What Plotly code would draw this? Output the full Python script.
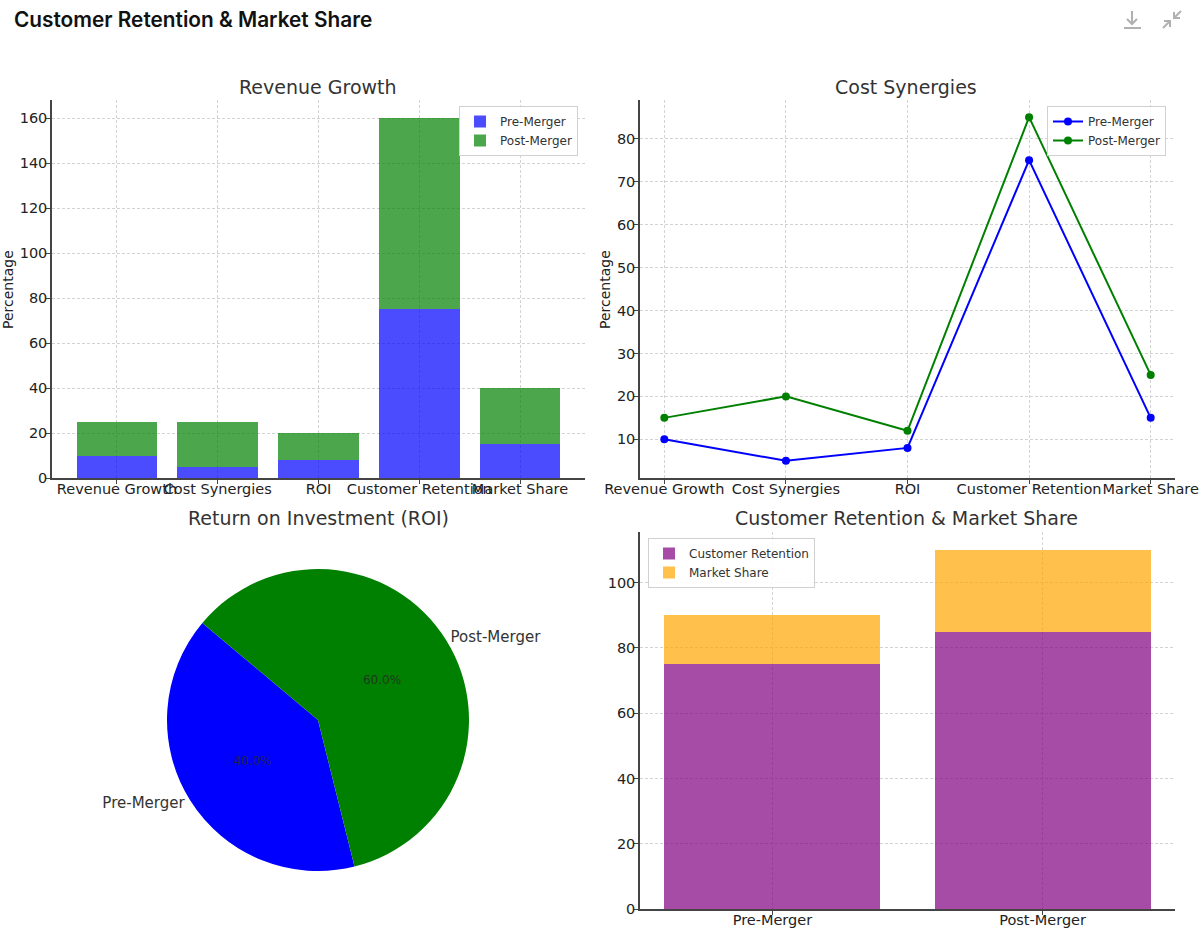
import plotly.graph_objects as go

# chart data
categories = ["Revenue Growth", "Cost Synergies", "ROI", "Customer Retention", "Market Share"]
pre_merger = [10, 5, 8, 75, 15]
post_merger = [15, 20, 12, 85, 25]

roi_labels = ["Pre-Merger", "Post-Merger"]
roi_values = [8, 12]

stages = ["Pre-Merger", "Post-Merger"]
retention = [75, 85]
market_share = [15, 25]

# page geometry (pixels), body margin is removed in the page so these map 1:1
W, H = 1200, 952
PLOT_L, PLOT_R, PLOT_T, PLOT_B = 52, 1175, 100, 909
pw, ph = PLOT_R - PLOT_L, PLOT_B - PLOT_T


def fx(px):
    return (px - PLOT_L) / pw


def fy(py):
    return (PLOT_B - py) / ph


FONT = "DejaVu Sans"

fig = go.Figure()

# Revenue Growth: stacked bars
fig.add_trace(go.Bar(x=categories, y=pre_merger, name="Pre-Merger",
                     marker=dict(color="rgba(0,0,255,0.7)", line=dict(width=0)),
                     xaxis="x", yaxis="y", legend="legend"))
fig.add_trace(go.Bar(x=categories, y=post_merger, name="Post-Merger",
                     marker=dict(color="rgba(0,128,0,0.7)", line=dict(width=0)),
                     xaxis="x", yaxis="y", legend="legend"))

# Cost Synergies: lines
fig.add_trace(go.Scatter(x=categories, y=pre_merger, name="Pre-Merger", mode="lines+markers",
                         line=dict(color="blue", width=2), marker=dict(color="blue", size=8),
                         xaxis="x2", yaxis="y2", legend="legend2"))
fig.add_trace(go.Scatter(x=categories, y=post_merger, name="Post-Merger", mode="lines+markers",
                         line=dict(color="green", width=2), marker=dict(color="green", size=8),
                         xaxis="x2", yaxis="y2", legend="legend2"))

# ROI pie (plotly's counterclockwise pie puts the first slice clockwise of `rotation`)
pie_domain = dict(x=[fx(167), fx(469)], y=[fy(871), fy(569)])
fig.add_trace(go.Pie(labels=roi_labels, values=roi_values, sort=False,
                     direction="counterclockwise", rotation=166,
                     marker=dict(colors=["blue", "green"], line=dict(width=0)),
                     texttemplate="%{percent:.1%}", textposition="inside",
                     insidetextorientation="horizontal",
                     textfont=dict(family=FONT, size=12, color="rgba(40,40,40,0.85)"),
                     domain=pie_domain, showlegend=False))
fig.add_trace(go.Pie(labels=roi_labels, values=roi_values, sort=False,
                     direction="counterclockwise", rotation=166,
                     marker=dict(colors=["rgba(0,0,0,0)", "rgba(0,0,0,0)"], line=dict(width=0)),
                     textinfo="label", textposition="outside",
                     outsidetextfont=dict(family=FONT, size=15, color="#333"),
                     domain=pie_domain, showlegend=False, hoverinfo="skip"))

# Customer Retention & Market Share: stacked bars
fig.add_trace(go.Bar(x=stages, y=retention, name="Customer Retention",
                     marker=dict(color="rgba(128,0,128,0.7)", line=dict(width=0)),
                     xaxis="x3", yaxis="y3", legend="legend3"))
fig.add_trace(go.Bar(x=stages, y=market_share, name="Market Share",
                     marker=dict(color="rgba(255,165,0,0.7)", line=dict(width=0)),
                     xaxis="x3", yaxis="y3", legend="legend3"))

axis_style = dict(showline=True, linecolor="#444", linewidth=1.5, ticks="outside", ticklen=4,
                  tickcolor="#444", showgrid=True, gridcolor="#d3d3d3", griddash="3px,2px",
                  gridwidth=1, zeroline=False, automargin=False,
                  tickfont=dict(family=FONT, size=14.5, color="#222"))
x_style = dict(axis_style, type="category", tickangle=0, ticklabelstandoff=-7)
y_style = dict(axis_style, ticklabelstandoff=-4)

legend_style = dict(bgcolor="rgba(255,255,255,0.85)", bordercolor="#d0d0d0", borderwidth=1,
                    font=dict(family=FONT, size=12, color="#333"), traceorder="normal",
                    tracegroupgap=0, itemwidth=30)

fig.update_layout(
    width=W, height=H,
    margin=dict(l=PLOT_L, r=W - PLOT_R, t=PLOT_T, b=H - PLOT_B),
    paper_bgcolor="white", plot_bgcolor="white",
    font=dict(family=FONT, color="#333"),
    barmode="stack", bargap=0.2,
    title=dict(text="Customer Retention & Market Share", x=14 / W, xref="container",
               xanchor="left", y=1 - 20 / H, yref="container", yanchor="middle",
               font=dict(family="Inter", size=20.8, color="#111", weight=600)),
    xaxis=dict(x_style, domain=[fx(52), fx(585)], anchor="y", range=[-0.645, 4.645]),
    yaxis=dict(y_style, domain=[fy(478), fy(100)], anchor="x", range=[0, 168], dtick=20),
    xaxis2=dict(x_style, domain=[fx(640), fx(1175)], anchor="y2", range=[-0.2, 4.2]),
    yaxis2=dict(y_style, domain=[fy(478), fy(100)], anchor="x2", range=[1, 89], dtick=10,
                tick0=0),
    xaxis3=dict(x_style, domain=[fx(640), fx(1175)], anchor="y3", range=[-0.49, 1.49]),
    yaxis3=dict(y_style, domain=[fy(909), fy(532)], anchor="x3", range=[0, 115.5], dtick=20),
    legend=dict(legend_style, x=fx(578), xanchor="right", y=fy(106), yanchor="top"),
    legend2=dict(legend_style, x=fx(1166), xanchor="right", y=fy(106), yanchor="top"),
    legend3=dict(legend_style, x=fx(648), xanchor="left", y=fy(538), yanchor="top"),
)

# subplot titles
titles = [("Revenue Growth", 318, 87), ("Cost Synergies", 906, 87),
          ("Return on Investment (ROI)", 318, 518), ("Customer Retention & Market Share", 906, 518)]
for text, px, py in titles:
    fig.add_annotation(text=text, x=fx(px), y=fy(py), xref="paper", yref="paper",
                       showarrow=False, xanchor="center", yanchor="middle",
                       font=dict(family=FONT, size=19, color="#333"))

# y axis labels
for px in (8, 605):
    fig.add_annotation(text="Percentage", x=fx(px), y=fy(290), xref="paper", yref="paper",
                       showarrow=False, textangle=-90, xanchor="center", yanchor="middle",
                       font=dict(family=FONT, size=14, color="#222"))


# toolbar icons (download / collapse)
def path(points):
    return "M " + " L ".join(f"{fx(a)},{fy(b)}" for a, b in points)


icon_line = dict(color="#b0b0b0", width=2)
for pts in [
    [(1132, 11), (1132, 24)], [(1127, 19), (1132, 24), (1137, 19)], [(1124, 28), (1141, 28)],
    [(1181, 11), (1174, 18)], [(1174, 12), (1174, 18), (1180, 18)],
    [(1163, 28), (1170, 21)], [(1164, 21), (1170, 21), (1170, 27)],
]:
    fig.add_shape(type="path", path=path(pts), xref="paper", yref="paper", line=icon_line)

fig.write_html("out.html", config={"displayModeBar": False},
               post_script="document.body.style.margin = '0';")
